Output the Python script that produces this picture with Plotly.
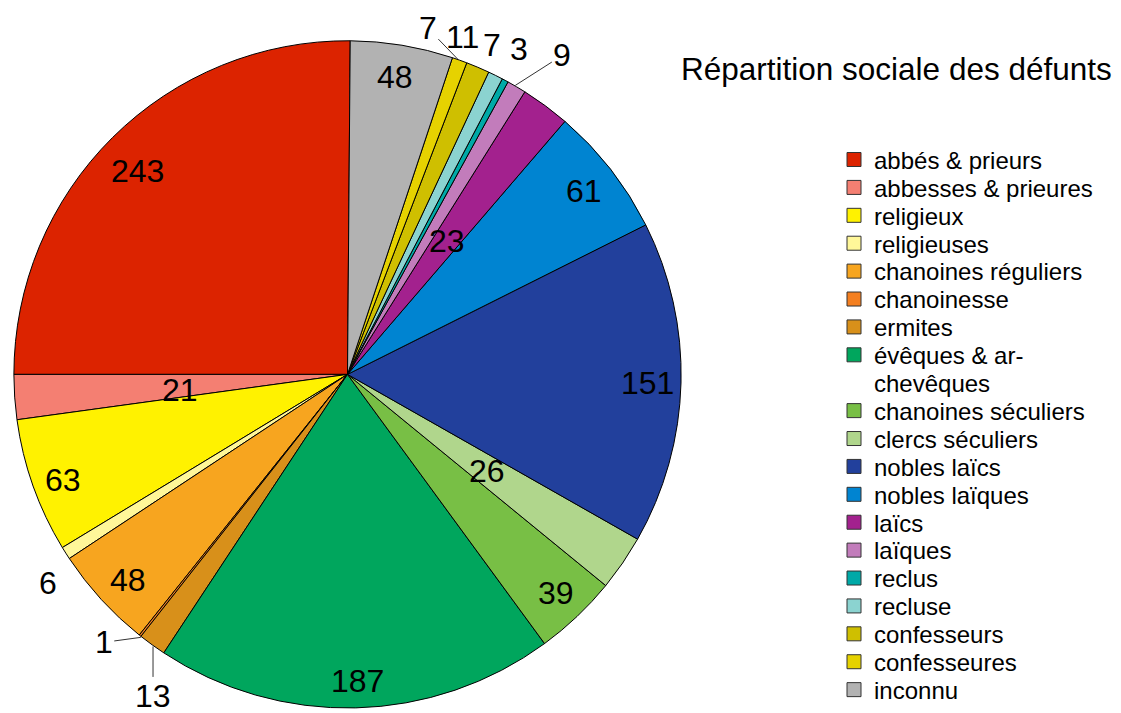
import math
import plotly.graph_objects as go

# ---------------- data ----------------
categories = [
    "abbés & prieurs", "abbesses & prieures", "religieux", "religieuses",
    "chanoines réguliers", "chanoinesse", "ermites", "évêques & ar-<br>chevêques",
    "chanoines séculiers", "clercs séculiers", "nobles laïcs", "nobles laïques",
    "laïcs", "laïques", "reclus", "recluse", "confesseurs", "confesseures", "inconnu",
]
values = [243, 21, 63, 6, 48, 1, 13, 187, 39, 26, 151, 61, 23, 9, 3, 7, 11, 7, 48]
title_text = "Répartition sociale des défunts"

# ---------------- style ----------------
colors = [
    "#dc2300", "#f47f72", "#fff200", "#fff799", "#f7a51f", "#f47f20", "#d8901a",
    "#00a65d", "#78bf45", "#b0d68c", "#22409c", "#0084d1", "#a3218e", "#c27cbb",
    "#00a9a7", "#8bd3d0", "#cfbf00", "#e6d200", "#b2b2b2",
]
# label placement per slice: ("in", radius factor) | ("out", dx, dy) | ("lead", dx, dy)
label_place = [
    ("in", 0.88), ("in", 0.50), ("in", 0.90), ("out", -17, 28), ("in", 0.89),
    ("lead", -37, 5), ("lead", 0, 50), ("in", 0.912), ("in", 0.896), ("in", 0.50),
    ("in", 0.893), ("in", 0.90), ("in", 0.505), ("lead", 47, -30), ("out", 15, -30),
    ("out", -2, -29), ("out", -14, -29), ("lead", -30, -31), ("in", 0.91),
]
IN_YSHIFT = -3

# the page body has an 8px margin, so the figure is 8px smaller than the window
W, H = 1113, 705
FONT = "Liberation Sans, Arial, sans-serif"
dom_x = [3.5 / W, 675.5 / W]
dom_y = [0.0, 1 - 33 / H]
cx = (dom_x[0] + dom_x[1]) / 2 * W
cy = (1 - (dom_y[0] + dom_y[1]) / 2) * H
R = min((dom_x[1] - dom_x[0]) * W, (dom_y[1] - dom_y[0]) * H) / 2

fig = go.Figure()
fig.add_trace(go.Pie(
    labels=categories, values=values, sort=False, direction="counterclockwise",
    rotation=-90, textinfo="none", showlegend=False,
    marker=dict(colors=colors, line=dict(color="#000000", width=1)),
    domain=dict(x=dom_x, y=dom_y),
    hovertemplate="%{label}: %{value}<extra></extra>",
))

lab_font = dict(size=32, color="#000", family=FONT)
total = sum(values)
cum = 0
annotations = []
for v, place in zip(values, label_place):
    mid = (cum + v / 2) / total * 2 * math.pi
    cum += v
    ux, uy = -math.sin(mid), -math.cos(mid)  # pixel direction (y down)
    common = dict(xref="paper", yref="paper", text=str(v), font=lab_font,
                  xanchor="center", yanchor="middle")
    if place[0] == "in":
        f = place[1]
        px, py = cx + ux * R * f, cy + uy * R * f
        annotations.append(dict(x=px / W, y=1 - py / H, showarrow=False,
                                yshift=IN_YSHIFT, **common))
    else:
        tx, ty = cx + ux * R, cy + uy * R
        dx, dy = place[1], place[2]
        if place[0] == "out":
            annotations.append(dict(x=tx / W, y=1 - ty / H, showarrow=False,
                                    xshift=dx, yshift=-dy, **common))
        else:
            annotations.append(dict(x=tx / W, y=1 - ty / H, showarrow=True, ax=dx, ay=dy,
                                    arrowhead=0, arrowwidth=1, arrowcolor="#333",
                                    standoff=0, startstandoff=0, **common))

# legend: one small legend per text line so that spacing matches
line_h = 28.1
ypos = 153
legend_layouts = {}
k = 0
for name, col in zip(categories, colors):
    for j, part in enumerate(name.split("<br>")):
        lname = "legend" if k == 0 else f"legend{k + 1}"
        k += 1
        first = j == 0
        fig.add_trace(go.Scatter(
            x=[None], y=[None], mode="markers", name=part, legend=lname,
            showlegend=True, hoverinfo="skip",
            marker=dict(symbol="square", size=14,
                        color=col if first else "rgba(0,0,0,0)",
                        line=dict(color="#333333" if first else "rgba(0,0,0,0)",
                                  width=1 if first else 0)),
        ))
        legend_layouts[lname] = dict(
            x=826 / W, y=1 - ypos / H, xanchor="left", yanchor="middle",
            bgcolor="rgba(0,0,0,0)", borderwidth=0, itemwidth=30,
            font=dict(size=24, color="#000", family=FONT),
            itemclick=False, itemdoubleclick=False,
        )
        ypos += line_h

fig.update_layout(
    width=W, height=H, margin=dict(l=0, r=0, t=0, b=0),
    paper_bgcolor="white", plot_bgcolor="white",
    xaxis=dict(visible=False), yaxis=dict(visible=False),
    annotations=annotations,
    title=dict(text=title_text, x=673 / W, xanchor="left", y=1 - 61 / H, yanchor="middle",
               font=dict(size=31.5, color="#000", family=FONT)),
    font=dict(family=FONT, color="#000"),
    **legend_layouts,
)

fig.write_html("out.html")
